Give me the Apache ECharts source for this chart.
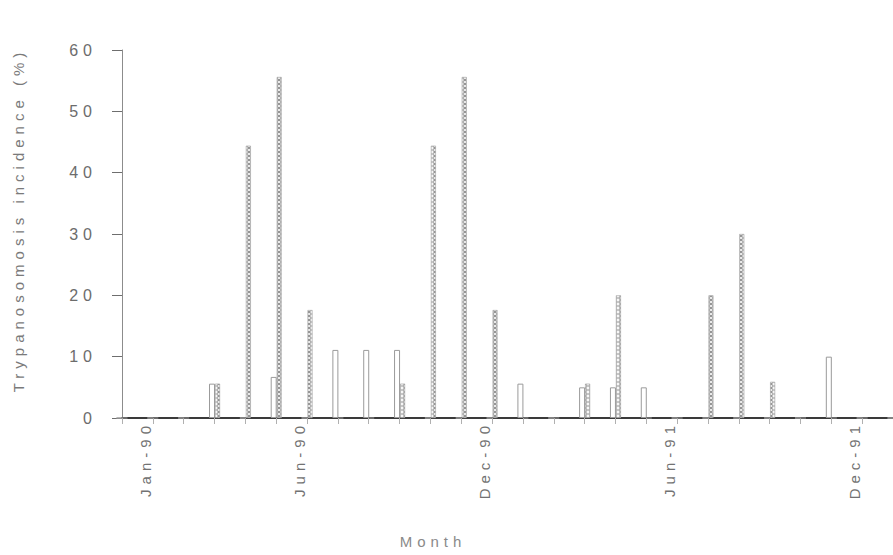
<!DOCTYPE html>
<html>
<head>
<meta charset="utf-8">
<script src="https://cdn.jsdelivr.net/npm/echarts@6/dist/echarts.min.js"></script>
<style>
  html, body { margin: 0; padding: 0; background: #ffffff; }
  #chart { width: 893px; height: 555px; }
  /* spaced-out lettering used throughout the figure */
  #chart text { letter-spacing: 5px; }
</style>
</head>
<body>
<div id="chart"></div>
<script>
// Monthly axis (one month of padding each side of the 1990-1991 record)
const months = [
  'Dec-89',
  'Jan-90', 'Feb-90', 'Mar-90', 'Apr-90', 'May-90', 'Jun-90',
  'Jul-90', 'Aug-90', 'Sep-90', 'Oct-90', 'Nov-90', 'Dec-90',
  'Jan-91', 'Feb-91', 'Mar-91', 'Apr-91', 'May-91', 'Jun-91',
  'Jul-91', 'Aug-91', 'Sep-91', 'Oct-91', 'Nov-91', 'Dec-91',
  'Jan-92'
];

// Months that carry a label on the x axis
const tickLabels = ['Jan-90', 'Jun-90', 'Dec-90', 'Jun-91', 'Dec-91'];

// Incidence (%) – open bars
const openBars = [
  0,
  0, 0, 5.6, 0, 6.7, 0,
  11.1, 11.1, 11.1, 0, 0, 0,
  5.6, 0, 5.0, 5.0, 5.0, 0,
  0, 0, 0, 0, 10.0, 0,
  0
];

// Incidence (%) – dotted bars
const dottedBars = [
  0,
  0, 0, 5.6, 44.4, 55.6, 17.6,
  0, 0, 5.6, 44.4, 55.6, 17.6,
  0, 0, 5.6, 20.0, 0, 0,
  20.0, 30.0, 5.9, 0, 0, 0,
  0
];

// Chain-of-rings fill for the dotted bars
function ringTile() {
  const c = document.createElement('canvas');
  c.width = 6; c.height = 4;
  const g = c.getContext('2d');
  g.fillStyle = '#f7f7f7';
  g.fillRect(0, 0, 6, 4);
  g.strokeStyle = '#8a8a8a';
  g.lineWidth = 1;
  g.beginPath();
  g.ellipse(3, 2, 2.2, 1.5, 0, 0, Math.PI * 2);
  g.stroke();
  return c;
}

const FONT = '"Liberation Sans", Arial, sans-serif';
const chart = echarts.init(document.getElementById('chart'), null, { renderer: 'svg' });

chart.setOption({
  backgroundColor: '#ffffff',
  animation: false,
  grid: { left: 122, right: -4, top: 50, bottom: 137, containLabel: false },
  xAxis: {
    type: 'category',
    data: months,
    boundaryGap: false,
    axisLine: { show: true, lineStyle: { color: '#3a3a3a', width: 2 } },
    axisTick: { show: true, interval: 0, length: 6, lineStyle: { color: '#b0b0b0', width: 1 } },
    axisLabel: {
      interval: (i, v) => tickLabels.indexOf(v) >= 0,
      rotate: 90,
      margin: 3,
      verticalAlign: 'bottom',
      color: '#727272',
      fontSize: 15,
      fontFamily: FONT
    },
    splitLine: { show: false }
  },
  yAxis: {
    type: 'value',
    min: 0,
    max: 60,
    interval: 10,
    name: 'Trypanosomosis incidence (%)',
    nameLocation: 'middle',
    nameGap: 96,
    nameTextStyle: { color: '#7a7a7a', fontSize: 15, fontFamily: FONT, padding: [0, 0, 0, 28] },
    axisLine: { show: true, lineStyle: { color: '#8c8c8c', width: 1 } },
    axisTick: { show: true, length: 10, lineStyle: { color: '#6e6e6e', width: 1 } },
    axisLabel: { margin: 25, color: '#6c6c6c', fontSize: 16, fontFamily: FONT },
    splitLine: { show: false }
  },
  graphic: [{
    type: 'text',
    x: 433,
    y: 541,
    style: {
      text: 'Month',
      fill: '#8a8a8a',
      font: '15px ' + FONT,
      align: 'center',
      verticalAlign: 'middle'
    }
  }],
  series: [
    {
      name: 'Open',
      type: 'bar',
      data: openBars,
      barWidth: 6,
      barGap: '0%',
      itemStyle: { color: '#ffffff', borderColor: '#9a9a9a', borderWidth: 1 }
    },
    {
      name: 'Dotted',
      type: 'bar',
      data: dottedBars,
      barWidth: 5,
      barGap: '0%',
      itemStyle: {
        color: { image: ringTile(), repeat: 'repeat', imageWidth: 6, imageHeight: 4 },
        borderColor: '#a0a0a0',
        borderWidth: 0.6
      }
    }
  ]
});
</script>
</body>
</html>
